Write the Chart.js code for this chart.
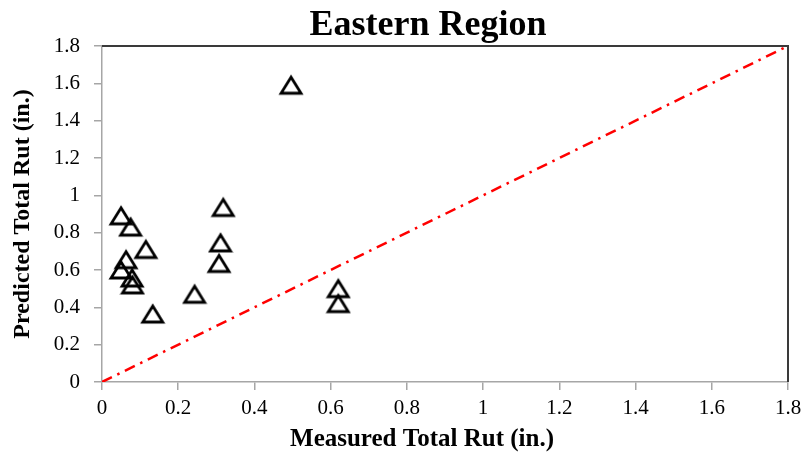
<!DOCTYPE html>
<html>
<head>
<meta charset="utf-8">
<script src="https://cdn.jsdelivr.net/npm/chart.js@4/dist/chart.umd.min.js"></script>
<style>
  html, body { margin: 0; padding: 0; background: #ffffff; }
  #wrap { width: 809px; height: 455px; }
</style>
</head>
<body>
<div id="wrap"><canvas id="c" width="809" height="455"></canvas></div>
<script>
const chartTitle = 'Eastern Region';
const xAxisTitle = 'Measured Total Rut (in.)';
const yAxisTitle = 'Predicted Total Rut (in.)';

const measured  = [0.496, 0.05, 0.075, 0.115, 0.318, 0.311, 0.307, 0.05, 0.063, 0.079, 0.08, 0.133, 0.243, 0.62, 0.62];
const predicted = [1.59, 0.89, 0.83, 0.71, 0.935, 0.745, 0.635, 0.60, 0.655, 0.557, 0.52, 0.364, 0.47, 0.50, 0.42];

const lineOfEquality = [0, 1.8];

const xTickValues = [0, 0.2, 0.4, 0.6, 0.8, 1, 1.2, 1.4, 1.6, 1.8];
const xTickLabels = ['0', '0.2', '0.4', '0.6', '0.8', '1', '1.2', '1.4', '1.6', '1.8'];
const yTickValues = [0, 0.2, 0.4, 0.6, 0.8, 1, 1.2, 1.4, 1.6, 1.8];
const yTickLabels = ['0', '0.2', '0.4', '0.6', '0.8', '1', '1.2', '1.4', '1.6', '1.8'];

// open triangle marker, centred on its bounding box
function makeTriangle() {
  const cv = document.createElement('canvas');
  cv.width = 26; cv.height = 24;
  const g = cv.getContext('2d');
  g.strokeStyle = '#000000';
  g.lineWidth = 2.8;
  g.lineJoin = 'miter';
  g.beginPath();
  g.moveTo(13, 4);
  g.lineTo(3, 20);
  g.lineTo(23, 20);
  g.closePath();
  g.stroke();
  return cv;
}

const points = measured.map((x, i) => ({ x: x, y: predicted[i] }));
const diag = lineOfEquality.map(v => ({ x: v, y: v }));

const serif = '"Liberation Serif", "Times New Roman", serif';

const framePlugin = {
  id: 'frame',
  afterDraw(chart) {
    const { ctx, chartArea: a } = chart;
    ctx.save();
    ctx.strokeStyle = '#3a3a3a';
    ctx.lineWidth = 2;
    ctx.beginPath();
    ctx.moveTo(a.left, a.top);
    ctx.lineTo(a.right, a.top);
    ctx.lineTo(a.right, a.bottom);
    ctx.stroke();
    ctx.fillStyle = '#000000';
    ctx.textAlign = 'center';
    ctx.textBaseline = 'alphabetic';
    // chart title
    ctx.font = 'bold 36px ' + serif;
    ctx.fillText(chartTitle, 428, 35);
    // x axis title
    ctx.font = 'bold 25px ' + serif;
    ctx.fillText(xAxisTitle, 422, 446);
    ctx.restore();
  }
};

new Chart(document.getElementById('c'), {
  type: 'scatter',
  data: {
    datasets: [
      {
        type: 'line',
        data: diag,
        borderColor: '#ff0000',
        borderWidth: 2.5,
        borderDash: [11, 6, 2.5, 6],
        pointRadius: 0,
        fill: false,
        order: 2
      },
      {
        data: points,
        pointStyle: makeTriangle(),
        pointRadius: 12,
        order: 1
      }
    ]
  },
  options: {
    responsive: false,
    animation: false,
    events: [],
    layout: { padding: { left: 0, right: 21, top: 46, bottom: 0 } },
    plugins: {
      legend: { display: false },
      title: { display: false },
      tooltip: { enabled: false }
    },
    scales: {
      x: {
        type: 'linear',
        min: 0, max: 1.8,
        afterBuildTicks: s => { s.ticks = xTickValues.map(v => ({ value: v })); },
        afterFit: s => { s.height = 73; },
        grid: { drawOnChartArea: false, drawTicks: true, tickLength: 8, color: '#a6a6a6', lineWidth: 1.5 },
        border: { display: true, color: '#a6a6a6', width: 1.5 },
        ticks: {
          color: '#000000',
          font: { family: serif, size: 21 },
          padding: 6,
          maxRotation: 0,
          autoSkip: false,
          callback: (v, i) => xTickLabels[i]
        },
        title: { display: false }
      },
      y: {
        type: 'linear',
        min: 0, max: 1.8,
        afterBuildTicks: s => { s.ticks = yTickValues.map(v => ({ value: v })); },
        afterFit: s => { s.width = 102; },
        grid: { drawOnChartArea: false, drawTicks: true, tickLength: 8, color: '#a6a6a6', lineWidth: 1.5 },
        border: { display: true, color: '#a6a6a6', width: 1.5 },
        ticks: {
          color: '#000000',
          font: { family: serif, size: 21 },
          padding: 14,
          autoSkip: false,
          callback: (v, i) => yTickLabels[i]
        },
        title: {
          display: true,
          text: yAxisTitle,
          color: '#000000',
          font: { family: serif, size: 24, weight: 'bold' },
          padding: { top: 8, bottom: 0 }
        }
      }
    }
  },
  plugins: [framePlugin]
});
</script>
</body>
</html>
